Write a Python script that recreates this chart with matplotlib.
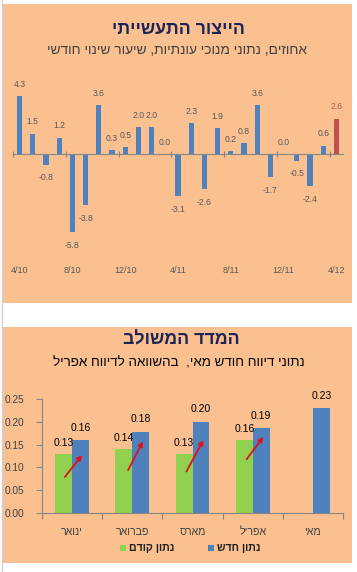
import numpy as np
import matplotlib
matplotlib.use("Agg")
import matplotlib.pyplot as plt
from matplotlib.patches import Rectangle
from matplotlib.transforms import blended_transform_factory

plt.rcParams['font.family'] = ['Liberation Sans', 'DejaVu Sans']

# top chart: industrial production, monthly change (%)
months = ['4/10', '5/10', '6/10', '7/10', '8/10', '9/10', '10/10', '11/10', '12/10',
          '1/11', '2/11', '3/11', '4/11', '5/11', '6/11', '7/11', '8/11', '9/11',
          '10/11', '11/11', '12/11', '1/12', '2/12', '3/12', '4/12']
change = [4.3, 1.5, -0.8, 1.2, -5.8, -3.8, 3.6, 0.3, 0.5,
          2.0, 2.0, 0.0, -3.1, 2.3, -2.6, 1.9, 0.2, 0.8,
          3.6, -1.7, 0.0, -0.5, -2.4, 0.6, 2.6]

# bottom chart: composite index, previous vs new report
cats = ['ינואר', 'פברואר', 'מארס', 'אפריל', 'מאי']
prev_vals = [0.13, 0.14, 0.13, 0.16, np.nan]
new_vals = [0.16, 0.178, 0.20, 0.186, 0.23]
prev_lbl = ['0.13', '0.14', '0.13', '0.16', '']
new_lbl = ['0.16', '0.18', '0.20', '0.19', '0.23']

# red arrows (offset from category centre, value)
arrows = [((-0.12, 0.079), (0.165, 0.127)),
          ((-0.07, 0.094), (0.177, 0.157)),
          ((-0.10, 0.091), (0.18, 0.160)),
          ((-0.10, 0.118), (0.176, 0.167))]

def rtl(s):
    return s[::-1]

peach = '#FAC090'
blue = '#4F81BD'
red = '#C0504D'
green = '#92D050'
navy = '#1C2456'

W, H = 357, 572
fig = plt.figure(figsize=(W / 100, H / 100), dpi=100)
fig.patch.set_facecolor('white')

def fx(px):
    return px / W

def fy(py):
    return 1 - py / H

def box(x0, y0, x1, y1):
    return [fx(x0), fy(y1), fx(x1) - fx(x0), fy(y0) - fy(y1)]

def rect(x0, y0, x1, y1, c, z=-5):
    r = Rectangle((fx(x0), fy(y1)), fx(x1) - fx(x0), fy(y0) - fy(y1),
                  transform=fig.transFigure, facecolor=c, edgecolor='none', zorder=z)
    fig.add_artist(r)

rect(3, 4, 352, 303, peach)
rect(3, 327, 352, 563, peach)
fig.add_artist(plt.Line2D([fx(2), fx(2)], [0, 1], color='#D0D0D0', lw=1,
                          transform=fig.transFigure, zorder=-4))

# ---- top panel ----
fig.text(fx(178), fy(30), rtl('הייצור התעשייתי'), ha='center', va='center',
         fontsize=12.8, fontweight='bold', color=navy)
fig.text(fx(177), fy(50), rtl('אחוזים, נתוני מנוכי עונתיות, שיעור שינוי חודשי'),
         ha='center', va='center', fontsize=9.9, color='#404040')

ax1 = fig.add_axes(box(13, 83.8, 343, 256.6), zorder=2)
ax1.set_facecolor('none')
x = np.arange(len(months))
colors = [blue] * (len(months) - 1) + [red]
ax1.bar(x, change, width=0.4, color=colors, zorder=2)
ax1.set_xlim(-0.5, len(months) - 0.5)
ax1.set_ylim(-7.6, 5.2)
for s in ['top', 'right', 'left']:
    ax1.spines[s].set_visible(False)
ax1.spines['bottom'].set_position(('data', 0))
ax1.spines['bottom'].set_color('#868686')
ax1.spines['bottom'].set_linewidth(0.8)
ax1.set_yticks([])
ax1.set_xticks(np.arange(-0.5, len(months) - 1, 4))
ax1.tick_params(axis='x', direction='inout', length=5, color='#868686',
                width=0.8, labelbottom=False)
for i, v in enumerate(change):
    lc = red if i == len(change) - 1 else '#595959'
    off = 8.6 if v >= 0 else -9.5
    ax1.annotate(f'{v:.1f}', (i, v), xytext=(0, off), textcoords='offset points',
                 ha='center', va='center', fontsize=6.2, color=lc)
tr = blended_transform_factory(ax1.transData, ax1.transAxes)
for i in range(0, len(months), 4):
    ax1.text(i, -0.078, months[i], transform=tr, ha='center', va='center',
             fontsize=6.5, color='#595959')

# ---- bottom panel ----
fig.text(fx(181), fy(340), rtl('המדד המשולב'), ha='center', va='center',
         fontsize=12.8, fontweight='bold', color=navy)
fig.text(fx(179), fy(363), rtl('נתוני דיווח חודש מאי,  בהשוואה לדיווח אפריל'),
         ha='center', va='center', fontsize=9.6, color='black')

ax2 = fig.add_axes(box(42, 399, 343, 513), zorder=2)
ax2.set_facecolor('none')
xc = np.arange(len(cats))
bw = 0.28
ax2.bar(xc - bw / 2, prev_vals, width=bw, color=green, zorder=2)
ax2.bar(xc + bw / 2, new_vals, width=bw, color=blue, zorder=2)
ax2.set_xlim(-0.5, len(cats) - 0.5)
ax2.set_ylim(0, 0.25)
yt = np.arange(0, 0.26, 0.05)
ax2.set_yticks(yt)
ax2.set_yticklabels([f'{t:.2f}' for t in yt])
ax2.set_xticks(np.arange(-0.5, len(cats), 1))
ax2.set_xticklabels([])
for s in ['top', 'right']:
    ax2.spines[s].set_visible(False)
for s in ['left', 'bottom']:
    ax2.spines[s].set_color('#868686')
    ax2.spines[s].set_linewidth(0.8)
ax2.tick_params(axis='both', direction='out', length=4, color='#868686', width=0.8)
ax2.tick_params(axis='y', labelsize=7.3, labelcolor='#404040', pad=9)
trb = blended_transform_factory(ax2.transData, ax2.transAxes)
for i in range(len(cats)):
    if prev_lbl[i]:
        ax2.annotate(prev_lbl[i], (i - bw / 2, prev_vals[i]), xytext=(0, 8),
                     textcoords='offset points', ha='center', va='center',
                     fontsize=7.5, color='black', zorder=4)
    ax2.annotate(new_lbl[i], (i + bw / 2, new_vals[i]), xytext=(0, 9),
                 textcoords='offset points', ha='center', va='center',
                 fontsize=7.5, color='black', zorder=4)
    ax2.text(i, -0.165, rtl(cats[i]), transform=trb,
             ha='center', va='center', fontsize=7.7, color='#404040')
for i, ((x0, y0), (x1, y1)) in enumerate(arrows):
    ax2.annotate('', xy=(i + x1, y1), xytext=(i + x0, y0),
                 arrowprops=dict(arrowstyle='-|>', color='#E0101A', lw=1.3,
                                 mutation_scale=7, shrinkA=0, shrinkB=0), zorder=5)

# legend
rect(120, 545, 126, 551, green, z=3)
fig.text(fx(129), fy(548), rtl('נתון קודם'), ha='left', va='center',
         fontsize=7.7, fontweight='bold', color='#202020')
rect(208, 545, 214, 551, blue, z=3)
fig.text(fx(217), fy(548), rtl('נתון חדש'), ha='left', va='center',
         fontsize=7.7, fontweight='bold', color='#202020')

fig.savefig('out.png', dpi=100, facecolor='white')
